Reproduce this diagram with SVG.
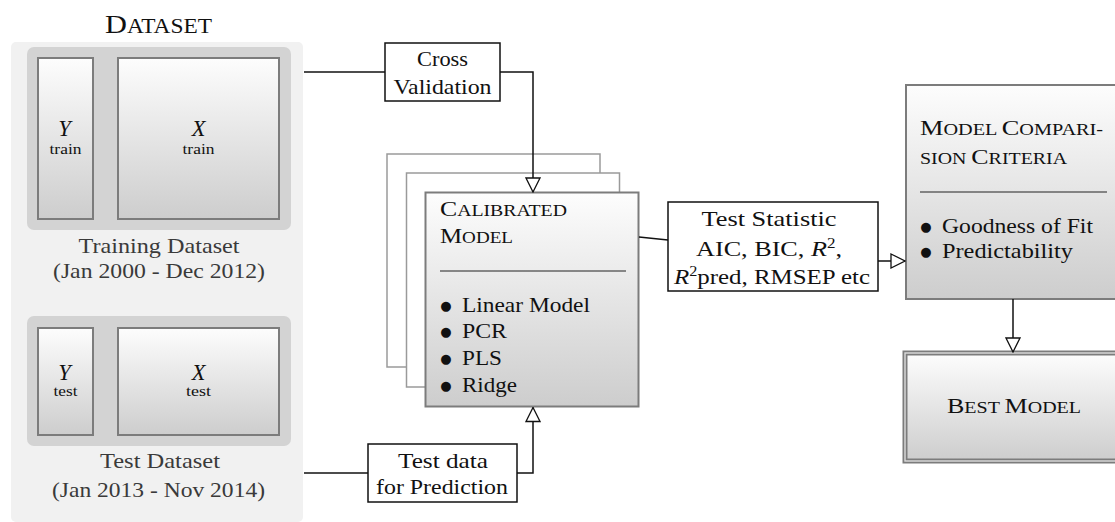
<svg xmlns="http://www.w3.org/2000/svg" width="1115" height="522" viewBox="0 0 1115 522">
  <style>
    text { font-family: 'Liberation Serif', 'DejaVu Serif', 'Noto Serif', serif; font-size: 21.5px; fill: #111; }
    .muted { fill: #3a3a3a; }
    .sc { font-size: 16.5px; }
    .sub { font-size: 14.5px; }
    .it { font-style: italic; }
    .var { font-style: italic; font-size: 22.5px; }
    .bul { font-family: 'DejaVu Sans', 'Liberation Sans', sans-serif; font-size: 13px; }
    .box { fill: url(#shade); stroke: #7c7c7c; stroke-width: 2; }
    .back { fill: #fff; stroke: #9a9a9a; stroke-width: 1.5; }
    .label { fill: #fff; stroke: #111; stroke-width: 1.5; }
    .rule { stroke: #222; stroke-width: 1.2; }
    .wire { fill: none; stroke: #111; stroke-width: 1.5; }
  </style>
  <defs>
    <linearGradient id="shade" x1="0" y1="0" x2="0" y2="1">
      <stop offset="0" stop-color="#fdfdfd"/>
      <stop offset="1" stop-color="#cdcdcd"/>
    </linearGradient>
    <marker id="open" markerUnits="userSpaceOnUse" markerWidth="16" markerHeight="16" viewBox="0 0 16 16" refX="15" refY="8" orient="auto">
      <path d="M1,1 L15,8 L1,15 Z" fill="#fff" stroke="#111" stroke-width="1.3"/>
    </marker>
  </defs>

  <!-- dataset panel -->
  <g id="dataset">
    <rect x="11" y="42" width="292" height="480" rx="5" fill="#f1f1f1"/>
    <text x="158.5" y="33" text-anchor="middle" textLength="107" lengthAdjust="spacingAndGlyphs"><tspan font-size="26">D</tspan><tspan font-size="20">ATASET</tspan></text>
  </g>

  <g id="training">
    <rect x="27" y="47" width="264" height="183" rx="7" fill="#d3d3d3"/>
    <rect class="box" x="38" y="58" width="55" height="161"/>
    <rect class="box" x="118" y="58" width="161" height="161"/>
    <text class="var" x="64.5" y="136" text-anchor="middle">Y</text>
    <text class="sub" x="65.5" y="154" text-anchor="middle" textLength="32" lengthAdjust="spacingAndGlyphs">train</text>
    <text class="var" x="198.5" y="136" text-anchor="middle">X</text>
    <text class="sub" x="198.5" y="154" text-anchor="middle" textLength="32" lengthAdjust="spacingAndGlyphs">train</text>
    <text class="muted" x="159" y="253" text-anchor="middle" textLength="161" lengthAdjust="spacingAndGlyphs">Training Dataset</text>
    <text class="muted" x="159" y="278" text-anchor="middle" textLength="212" lengthAdjust="spacingAndGlyphs">(Jan 2000 - Dec 2012)</text>
  </g>

  <g id="test">
    <rect x="27" y="316" width="264" height="130" rx="7" fill="#d3d3d3"/>
    <rect class="box" x="38" y="328" width="55" height="107"/>
    <rect class="box" x="118" y="328" width="161" height="107"/>
    <text class="var" x="64.5" y="380" text-anchor="middle">Y</text>
    <text class="sub" x="65.5" y="396" text-anchor="middle" textLength="24" lengthAdjust="spacingAndGlyphs">test</text>
    <text class="var" x="198.5" y="380" text-anchor="middle">X</text>
    <text class="sub" x="198.5" y="396" text-anchor="middle" textLength="25" lengthAdjust="spacingAndGlyphs">test</text>
    <text class="muted" x="160" y="468" text-anchor="middle" textLength="120" lengthAdjust="spacingAndGlyphs">Test Dataset</text>
    <text class="muted" x="158.5" y="497" text-anchor="middle" textLength="213" lengthAdjust="spacingAndGlyphs">(Jan 2013 - Nov 2014)</text>
  </g>

  <g id="cross-validation">
    <rect class="label" x="385" y="43" width="115" height="58"/>
    <text x="442.5" y="66" text-anchor="middle" textLength="51" lengthAdjust="spacingAndGlyphs">Cross</text>
    <text x="442.5" y="94" text-anchor="middle" textLength="98" lengthAdjust="spacingAndGlyphs">Validation</text>
  </g>

  <g id="calibrated-model">
    <rect class="back" x="387" y="154" width="213" height="213"/>
    <rect class="back" x="406.5" y="173" width="213" height="214"/>
    <rect class="box" x="425.5" y="192.5" width="213" height="214"/>
    <text x="440" y="216" textLength="127" lengthAdjust="spacingAndGlyphs"><tspan>C</tspan><tspan class="sc">ALIBRATED</tspan></text>
    <text x="440" y="243" textLength="73" lengthAdjust="spacingAndGlyphs"><tspan>M</tspan><tspan class="sc">ODEL</tspan></text>
    <line class="rule" x1="440" y1="271" x2="626" y2="271"/>
    <text class="bul" x="446" y="310" text-anchor="middle">●</text>
    <text x="462" y="312" textLength="128" lengthAdjust="spacingAndGlyphs">Linear Model</text>
    <text class="bul" x="446" y="336" text-anchor="middle">●</text>
    <text x="462" y="338" textLength="45" lengthAdjust="spacingAndGlyphs">PCR</text>
    <text class="bul" x="446" y="363" text-anchor="middle">●</text>
    <text x="462" y="365" textLength="40" lengthAdjust="spacingAndGlyphs">PLS</text>
    <text class="bul" x="446" y="390" text-anchor="middle">●</text>
    <text x="462" y="392" textLength="55" lengthAdjust="spacingAndGlyphs">Ridge</text>
  </g>

  <g id="test-data">
    <rect class="label" x="368" y="444" width="149" height="58"/>
    <text x="443" y="468" text-anchor="middle" textLength="90" lengthAdjust="spacingAndGlyphs">Test data</text>
    <text x="442" y="494" text-anchor="middle" textLength="132" lengthAdjust="spacingAndGlyphs">for Prediction</text>
  </g>

  <g id="test-statistic">
    <rect class="label" x="668" y="202" width="210" height="89"/>
    <text x="769" y="226" text-anchor="middle" textLength="135" lengthAdjust="spacingAndGlyphs">Test Statistic</text>
    <text x="769" y="256" text-anchor="middle" textLength="146" lengthAdjust="spacingAndGlyphs">AIC, BIC, <tspan class="it">R</tspan><tspan font-size="14" dy="-8">2</tspan><tspan dy="8">,</tspan></text>
    <text x="772" y="284" text-anchor="middle" textLength="196" lengthAdjust="spacingAndGlyphs"><tspan class="it">R</tspan><tspan font-size="14" dy="-8">2</tspan><tspan dy="8">pred, RMSEP etc</tspan></text>
  </g>

  <g id="comparison-criteria">
    <rect class="box" x="906" y="85" width="216" height="214"/>
    <text x="920" y="135" textLength="183" lengthAdjust="spacingAndGlyphs"><tspan>M</tspan><tspan class="sc">ODEL </tspan><tspan>C</tspan><tspan class="sc">OMPARI-</tspan></text>
    <text x="920" y="164" textLength="147" lengthAdjust="spacingAndGlyphs"><tspan class="sc">SION </tspan><tspan>C</tspan><tspan class="sc">RITERIA</tspan></text>
    <line class="rule" x1="920" y1="192" x2="1107" y2="192"/>
    <text class="bul" x="926" y="231" text-anchor="middle">●</text>
    <text x="942" y="233" textLength="151" lengthAdjust="spacingAndGlyphs">Goodness of Fit</text>
    <text class="bul" x="926" y="256" text-anchor="middle">●</text>
    <text x="942" y="258" textLength="131" lengthAdjust="spacingAndGlyphs">Predictability</text>
  </g>

  <g id="best-model">
    <rect x="905" y="353" width="222" height="108" fill="url(#shade)" stroke="#7c7c7c" stroke-width="5"/>
    <rect x="905" y="353" width="222" height="108" fill="none" stroke="#dcdcdc" stroke-width="1.4"/>
    <text x="1014" y="413" text-anchor="middle" textLength="134" lengthAdjust="spacingAndGlyphs"><tspan>B</tspan><tspan class="sc">EST </tspan><tspan>M</tspan><tspan class="sc">ODEL</tspan></text>
  </g>

  <!-- connectors, drawn last so they pass over the stacked model cards -->
  <g id="connectors">
    <path class="wire" d="M304,72 H385"/>
    <path class="wire" d="M500,72 H533 V192" marker-end="url(#open)"/>
    <path class="wire" d="M304,473 H368"/>
    <path class="wire" d="M517,473 H533 V407.5" marker-end="url(#open)"/>
    <path class="wire" d="M639,237 L668,240"/>
    <path class="wire" d="M878,261 H905" marker-end="url(#open)"/>
    <path class="wire" d="M1013,299 V352" marker-end="url(#open)"/>
  </g>
</svg>
